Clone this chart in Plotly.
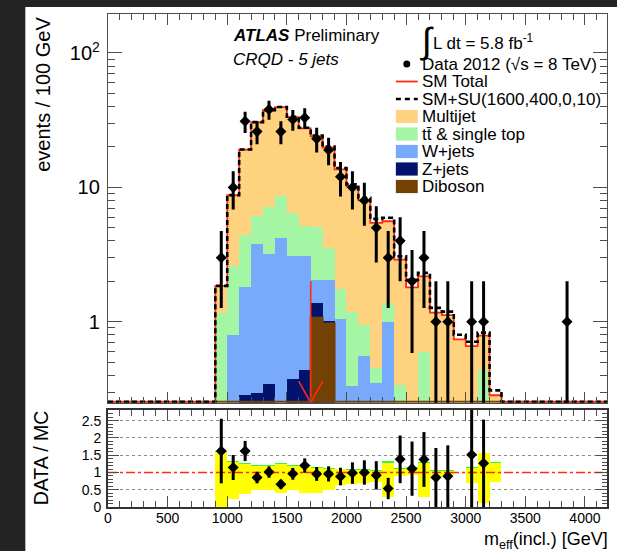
import numpy as np
import plotly.graph_objects as go

# ---------------- data ----------------
BIN_LOW = list(range(900, 3300, 100))          # lower edges of 100 GeV bins
BIN_WIDTH = 100
X_MIN, X_MAX = 0, 4185
Y_MIN, Y_MAX = 0.25, 195

multijet = [0.68, 6.15, 14.7, 24.4, 30.3, 30.9, 26.8, 22.3, 18.9, 16.25, 11.86, 9.0, 7.05,
            5.0, 4.22, 2.56, 1.6, 1.58, 1.02, 1.02, 0.64, 0.56, 0.35, 0.234]
ttbar = [1.07, 1.79, 2.59, 2.33, 4.0, 4.38, 3.4, 2.12, 3.06, 1.51, 0.69, 0.85, 0.39,
         0.1, 0.39, 0.236, 0.15, 0.55, 0.13, 0.08, 0.08, 0.08, 0.42, 0.05]
wjets = [0.08, 0.65, 1.525, 3.477, 2.858, 4.02, 2.723, 2.643, 0.67, 1.03, 0.95, 0.28, 0.51,
         0.32, 0.94, 0.1, 0.05, 0.05, 0.02, 0.02, 0.02, 0.02, 0.02, 0.0]
zjets = [0.02, 0.15, 0.265, 0.263, 0.312, 0.18, 0.327, 0.337, 0.30, 0.04, 0.08, 0.05, 0.05,
         0.03, 0.05, 0, 0, 0, 0, 0, 0, 0, 0, 0]
diboson = [0, 0, 0.02, 0.03, 0.03, 0.02, 0.05, 0.1, 1.07, 0.97, 0.02, 0, 0,
           0, 0, 0, 0, 0, 0, 0, 0, 0, 0, 0]
signal_su = [0.0, 0.02, 0.05, 0.08, 0.1, 0.15, 0.2, 0.25, 0.3, 0.3, 0.35, 0.35, 0.35,
             0.38, 0.35, 0.17, 0.25, 0.13, 0.1, 0.07, 0.06, 0.05, 0.04, 0.025]

# ratio-panel uncertainty band (relative to SM total); None = no band
band_low = [0.0, 0.22, 0.39, 0.49, 0.49, 0.42, 0.49, 0.41, 0.41, 0.49, 0.65, 0.68, 0.70,
            0.73, 0.28, 0.90, 0.92, 0.28, 0.88, 0.90, None, 0.70, 0.11, 0.73]
band_high = [1.60, 1.31, 1.24, 1.20, 1.18, 1.24, 1.20, 1.18, 1.14, 1.10, 1.09, 1.07, 1.07,
             1.04, 1.28, 1.10, 1.14, 1.28, 1.04, 1.04, None, 1.12, 1.55, 1.28]
band_green_high = [1.62, 1.33, 1.27, 1.23, 1.21, 1.27, 1.23, 1.21, 1.17, 1.13, 1.11, 1.09, 1.09,
                   1.06, 1.34, 1.12, 1.17, 1.30, 1.06, 1.06, None, 1.165, 1.57, 1.30]

data_x = [950, 1050, 1150, 1250, 1350, 1450, 1550, 1650, 1750, 1850, 1950, 2050, 2150,
          2250, 2350, 2450, 2550, 2650, 2750, 2850, 2950, 3050, 3150, 3850]
data_n = [3, 10, 31, 26, 38, 26, 32, 33, 23, 19, 12, 10, 8,
          5, 3, 4, 2, 3, 1, 1, 0, 1, 1, 1]

CUT_GEV = 1700
CUT_ARROW_TOP = 2.0

# ---------------- derived ----------------
centers = np.array(BIN_LOW) + BIN_WIDTH / 2
dib = np.array(diboson, float)
cum_z = dib + np.array(zjets)
cum_w = cum_z + np.array(wjets)
cum_tt = cum_w + np.array(ttbar)
sm_total = cum_tt + np.array(multijet)
sm_su = sm_total + np.array(signal_su)

floor_val = Y_MIN * 1.015


def step_xy(vals):
    xs = [X_MIN] + list(BIN_LOW) + [BIN_LOW[-1] + BIN_WIDTH, 4200]
    v = [max(float(a), floor_val) for a in vals]
    ys = [floor_val] + v + [floor_val, floor_val]
    return xs, ys


W, H = 617, 551
ML, MR, MT, MB = 108, 8, 14, 44
PW, PH = W - ML - MR, H - MT - MB


def px(x):
    return (x - ML) / PW


def py(y):
    return (H - MB - y) / PH


FONT = "Liberation Sans, Arial, Helvetica, sans-serif"
C_MJ = "#FED27F"
C_TT = "#A4F6A4"
C_W = "#78A9FB"
C_Z = "#02136E"
C_DIB = "#744105"
C_RED = "#FF2A10"

fig = go.Figure()

# stacked histogram (cumulative bars overlaid)
for vals, col in [(sm_total, C_MJ), (cum_tt, C_TT), (cum_w, C_W), (cum_z, C_Z), (dib, C_DIB)]:
    yv = [v if v > 0 else None for v in vals]
    fig.add_trace(go.Bar(x=centers, y=yv, width=BIN_WIDTH, marker=dict(color=col, line=dict(width=0)),
                         xaxis="x", yaxis="y", hoverinfo="skip"))

xs, ys = step_xy(dib)
fig.add_trace(go.Scatter(x=xs, y=ys, mode="lines", line=dict(color=C_DIB, width=2, shape="hv"),
                         xaxis="x", yaxis="y", hoverinfo="skip"))
xs, ys = step_xy(sm_total)
fig.add_trace(go.Scatter(x=xs, y=ys, mode="lines", line=dict(color=C_RED, width=1.8, shape="hv"),
                         xaxis="x", yaxis="y", hoverinfo="skip"))
xs, ys = step_xy(sm_su)
fig.add_trace(go.Scatter(x=xs, y=ys, mode="lines",
                         line=dict(color="black", width=2.6, shape="hv", dash="5px,3px"),
                         xaxis="x", yaxis="y", hoverinfo="skip"))

# cut arrow
fig.add_trace(go.Scatter(x=[CUT_GEV, CUT_GEV], y=[CUT_ARROW_TOP, Y_MIN], mode="lines",
                         line=dict(color=C_RED, width=1.6), xaxis="x", yaxis="y", hoverinfo="skip"))
fig.add_trace(go.Scatter(x=[CUT_GEV - 100, CUT_GEV, CUT_GEV + 100], y=[0.36, Y_MIN, 0.36], mode="lines",
                         line=dict(color=C_RED, width=1.6), xaxis="x", yaxis="y", hoverinfo="skip"))

# data points
dx = np.array(data_x, float)
dn = np.array(data_n, float)
mask = dn > 0
err = np.sqrt(dn[mask])
errm = np.minimum(err, dn[mask] - Y_MIN * 0.2)
fig.add_trace(go.Scatter(x=dx[mask], y=dn[mask], mode="markers",
                         marker=dict(symbol="diamond", size=8.5, color="black"),
                         error_y=dict(type="data", array=err, arrayminus=errm, thickness=3, width=0, color="black"),
                         xaxis="x", yaxis="y", hoverinfo="skip"))

# ---------------- ratio panel ----------------
bl = np.array([np.nan if v is None else v for v in band_low], float)
bh = np.array([np.nan if v is None else v for v in band_high], float)
bg = np.array([np.nan if v is None else v for v in band_green_high], float)
fig.add_trace(go.Bar(x=centers, y=bg - bl, base=bl, width=BIN_WIDTH,
                     marker=dict(color="#3CF23C", line=dict(width=0)), xaxis="x2", yaxis="y2", hoverinfo="skip"))
fig.add_trace(go.Bar(x=centers, y=bh - bl, base=bl, width=BIN_WIDTH,
                     marker=dict(color="#FFFF00", line=dict(width=0)), xaxis="x2", yaxis="y2", hoverinfo="skip"))
fig.add_trace(go.Scatter(x=[0, 4200], y=[1, 1], mode="lines", line=dict(color=C_RED, width=1.6, dash="dashdot"),
                         xaxis="x2", yaxis="y2", hoverinfo="skip"))

mc_at = {c: v for c, v in zip(centers, sm_total)}
rx, ry, re = [], [], []
for x, n in zip(data_x, data_n):
    if n > 0 and x in mc_at:
        rx.append(x)
        ry.append(n / mc_at[x])
        re.append(np.sqrt(n) / mc_at[x])
fig.add_trace(go.Scatter(x=rx, y=ry, mode="markers",
                         marker=dict(symbol="diamond", size=8.5, color="black"),
                         error_y=dict(type="data", array=re, thickness=3, width=0, color="black"),
                         xaxis="x2", yaxis="y2", hoverinfo="skip"))

AX_COL = "#4d4d4d"
main_top = 1.0
main_bot = py(402.7)
rat_top = py(410)

fig.update_layout(
    width=W, height=H,
    margin=dict(l=ML, r=MR, t=MT, b=MB),
    paper_bgcolor="#242424", plot_bgcolor="white",
    barmode="overlay", bargap=0, showlegend=False,
    font=dict(family=FONT, color="black"),
    xaxis=dict(domain=[0, 1], anchor="y", range=[X_MIN, X_MAX], showticklabels=False,
               tickmode="linear", tick0=0, dtick=500, ticks="inside", ticklen=11, tickwidth=1, tickcolor=AX_COL,
               minor=dict(dtick=100, tick0=0, ticks="inside", ticklen=6, tickwidth=1, tickcolor=AX_COL),
               showline=True, linecolor=AX_COL, linewidth=1.3, mirror="allticks", showgrid=False, zeroline=False),
    yaxis=dict(domain=[main_bot, main_top], anchor="x", type="log",
               range=[np.log10(Y_MIN), np.log10(Y_MAX)],
               tickmode="array", tickvals=[1, 10, 100], ticktext=["1", "10", "10<sup>2</sup>"],
               tickfont=dict(size=20), ticklabelstandoff=3,
               ticks="inside", ticklen=14, tickwidth=1, tickcolor=AX_COL,
               minor=dict(tickmode="array",
                          tickvals=[0.3, 0.4, 0.5, 0.6, 0.7, 0.8, 0.9, 2, 3, 4, 5, 6, 7, 8, 9,
                                    20, 30, 40, 50, 60, 70, 80, 90],
                          ticks="inside", ticklen=7, tickwidth=1, tickcolor=AX_COL),
               showline=True, linecolor=AX_COL, linewidth=1.3, mirror="allticks", showgrid=False, zeroline=False),
    xaxis2=dict(domain=[0, 1], anchor="y2", range=[X_MIN, X_MAX], matches="x",
                tickmode="linear", tick0=0, dtick=500, ticks="inside", ticklen=11, tickwidth=1, tickcolor=AX_COL,
                tickfont=dict(size=14), ticklabelstandoff=-3,
                minor=dict(dtick=100, tick0=0, ticks="inside", ticklen=6, tickwidth=1, tickcolor=AX_COL),
                showline=True, linecolor="#333", linewidth=2, mirror="allticks", showgrid=False, zeroline=False),
    yaxis2=dict(domain=[0, rat_top], anchor="x2", range=[0, 2.81],
                tickmode="linear", tick0=0, dtick=0.5, tickfont=dict(size=14), ticklabelstandoff=2,
                ticks="inside", ticklen=11, tickwidth=1, tickcolor=AX_COL,
                minor=dict(dtick=0.1, tick0=0, ticks="inside", ticklen=5, tickwidth=1, tickcolor=AX_COL),
                showgrid=True, gridcolor="#8a8a8a", griddash="dot", gridwidth=1,
                showline=True, linecolor="#333", linewidth=2, mirror="allticks", zeroline=False),
)

shapes = [dict(type="rect", xref="paper", yref="paper", x0=px(25), x1=px(620), y0=py(7), y1=py(555),
               fillcolor="white", line=dict(width=0), layer="below")]

annotations = []


def text(x, y, s, size=17, xanchor="left", yanchor="middle", angle=0):
    annotations.append(dict(x=px(x), y=py(y), xref="paper", yref="paper", text=s, showarrow=False,
                            xanchor=xanchor, yanchor=yanchor, textangle=angle,
                            font=dict(size=size, family=FONT, color="black")))


text(231, 36, "<b><i>ATLAS</i></b> Preliminary", 17)
text(231, 60, "<i>CRQD - 5 jets</i>", 17)
text(428, 40, "\u222B", 36, xanchor="center")
text(432, 42, "L dt = 5.8 fb<sup>-1</sup>", 17)

LX0, LX1, LT = 397, 419, 421
rows = [64, 81.5, 99, 116.5, 134, 151.5, 169, 186.5]
shapes.append(dict(type="circle", xref="paper", yref="paper", x0=px(404.5), x1=px(411.5),
                   y0=py(rows[0] + 3.5), y1=py(rows[0] - 3.5), fillcolor="black", line=dict(width=0)))
text(LT, rows[0], "Data 2012 (\u221As = 8 TeV)")
shapes.append(dict(type="line", xref="paper", yref="paper", x0=px(LX0), x1=px(LX1),
                   y0=py(rows[1]), y1=py(rows[1]), line=dict(color=C_RED, width=1.8)))
text(LT, rows[1], "SM Total")
shapes.append(dict(type="line", xref="paper", yref="paper", x0=px(LX0), x1=px(LX1),
                   y0=py(rows[2]), y1=py(rows[2]), line=dict(color="black", width=2.6, dash="5px,4px")))
text(LT, rows[2], "SM+SU(1600,400,0,10)")
for r, col, lab in zip(rows[3:], [C_MJ, C_TT, C_W, C_Z, C_DIB],
                       ["Multijet", "tt\u0304 & single top", "W+jets", "Z+jets", "Diboson"]):
    shapes.append(dict(type="rect", xref="paper", yref="paper", x0=px(LX0), x1=px(LX1),
                       y0=py(r + 6.6), y1=py(r - 6.6), fillcolor=col, line=dict(width=0)))
    text(LT, r, lab)

text(43, 15, "events / 100 GeV", 20, xanchor="center", yanchor="top", angle=-90)
text(41, 458, "DATA / MC", 19.5, xanchor="center", yanchor="middle", angle=-90)
text(612, 540, "m<sub>eff</sub>(incl.) [GeV]", 18, xanchor="right", yanchor="middle")

fig.update_layout(shapes=shapes, annotations=annotations)
fig.write_html("out.html")
